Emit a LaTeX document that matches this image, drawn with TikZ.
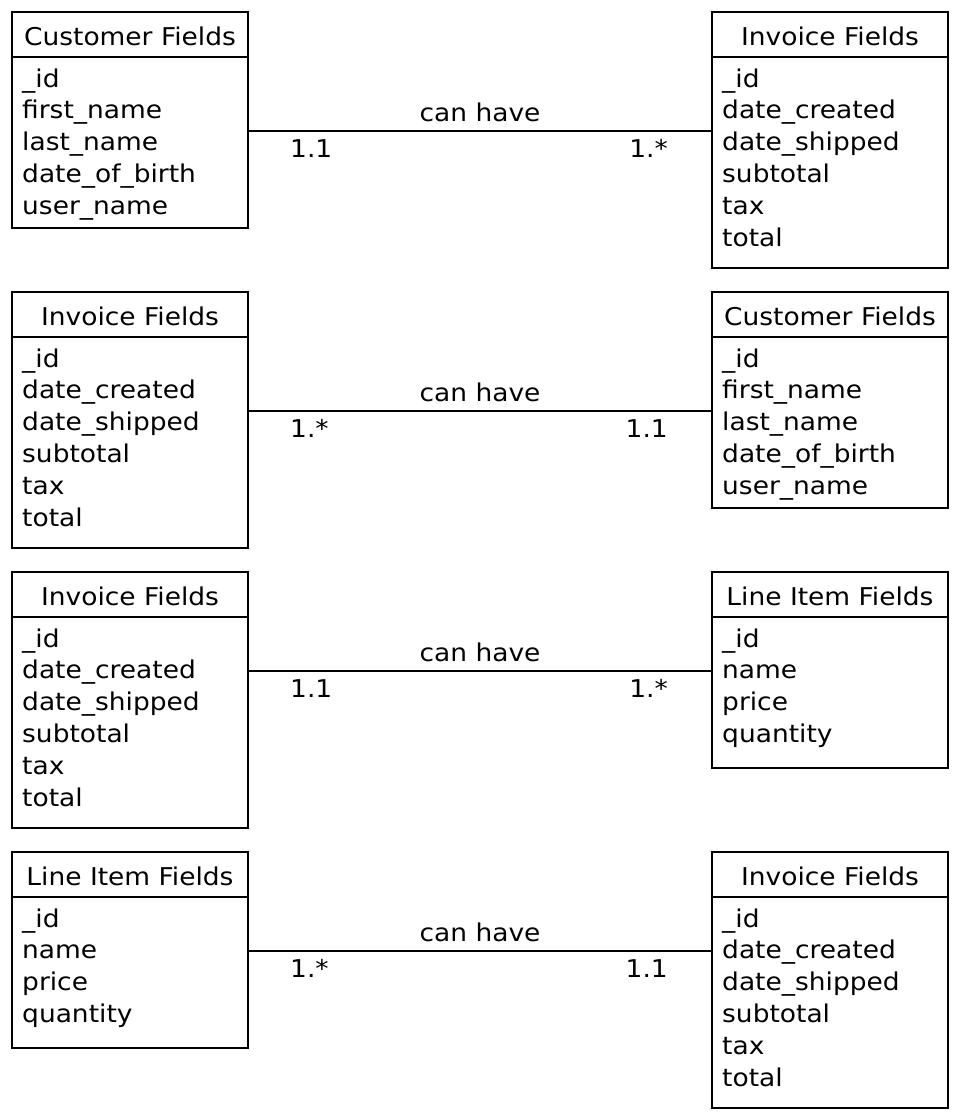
\documentclass[tikz,border=0pt]{standalone}
\usepackage{fontspec}
\setmainfont{DejaVu Sans}[FakeStretch=1.08]
\usetikzlibrary{calc}

\tikzset{
  x=1pt, y=1pt,
  frame/.style={draw, line width=1.5pt, minimum width=236pt, inner sep=0pt, outer sep=0pt},
  txt/.style={inner sep=0pt, font=\fontsize{24.5}{30}\selectfont},
  link/.style={draw, line width=1.5pt},
}

% class box: name, left x, top y, height, title, list of fields
\newcommand\umlclass[6]{%
  \node[frame, minimum height=#4, anchor=north west] (#1) at (#2,-#3) {};
  \node[frame, minimum height=45, anchor=north west] (#1-head) at (#2,-#3) {};
  \node[txt, anchor=base] (#1-title) at ($(#1.north)+(0,-33)$) {#5};
  \foreach \t [count=\i, evaluate=\i as \dy using {-75-31.8*(\i-1)}] in {#6}
    \node[txt, anchor=base west] (#1-\i) at ($(#1.north west)+(10,\dy)$) {\t};
}

% association line at height y between two boxes, with its labels
\newcommand\assoc[6]{% name, left box, right box, y, left mult, right mult
  \coordinate (#1-a) at (#2.east |- 0,-#4);
  \coordinate (#1-b) at (#3.west |- 0,-#4);
  \draw[link] (#1-a) -- (#1-b);
  \node[txt, anchor=base] (#1-name) at ($($(#1-a)!.5!(#1-b)$)+(0,10)$) {can have};
  \node[txt, anchor=base west] (#1-l) at ($(#1-a)+(42,-26)$) {#5};
  \node[txt, anchor=base east] (#1-r) at ($(#1-b)+(-44,-26)$) {#6};
}

\begin{document}
\begin{tikzpicture}
\useasboundingbox (0,0) rectangle (958,-1120);

% row 1
\umlclass{cust1}{12}{12}{216}{Customer Fields}{\_id,first\_name,last\_name,date\_of\_birth,user\_name}
\umlclass{inv1}{712}{12}{256}{Invoice Fields}{\_id,date\_created,date\_shipped,subtotal,tax,total}
\assoc{r1}{cust1}{inv1}{131}{1.1}{1.*}

% row 2
\umlclass{inv2}{12}{292}{256}{Invoice Fields}{\_id,date\_created,date\_shipped,subtotal,tax,total}
\umlclass{cust2}{712}{292}{216}{Customer Fields}{\_id,first\_name,last\_name,date\_of\_birth,user\_name}
\assoc{r2}{inv2}{cust2}{411}{1.*}{1.1}

% row 3
\umlclass{inv3}{12}{572}{256}{Invoice Fields}{\_id,date\_created,date\_shipped,subtotal,tax,total}
\umlclass{item3}{712}{572}{196}{Line Item Fields}{\_id,name,price,quantity}
\assoc{r3}{inv3}{item3}{671}{1.1}{1.*}

% row 4
\umlclass{item4}{12}{852}{196}{Line Item Fields}{\_id,name,price,quantity}
\umlclass{inv4}{712}{852}{256}{Invoice Fields}{\_id,date\_created,date\_shipped,subtotal,tax,total}
\assoc{r4}{item4}{inv4}{951}{1.*}{1.1}
\end{tikzpicture}
\end{document}
